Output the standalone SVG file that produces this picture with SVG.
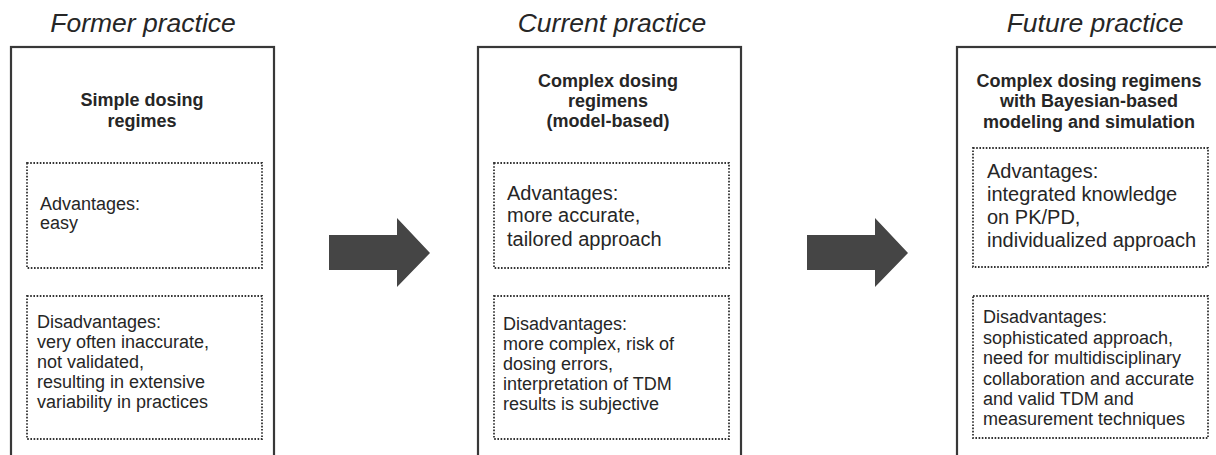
<svg xmlns="http://www.w3.org/2000/svg" width="1216" height="455" viewBox="0 0 1216 455">
<style>
text{font-family:"Liberation Sans",Arial,sans-serif;fill:#262626}
.h{font-size:26.5px;font-style:italic;text-anchor:middle}
.b{font-size:18px;font-weight:bold;text-anchor:middle}
.t18{font-size:18px}
.t20{font-size:20px}
.outer{fill:#fff;stroke:#383838;stroke-width:2.2}
.dot{fill:none;stroke:#333;stroke-width:1.8;stroke-dasharray:1.6 1.6}
.arrow{fill:#454545}
</style>
<rect width="1216" height="455" fill="#fff"/>
<g id="former">
<text class="h" x="143" y="32">Former practice</text>
<rect class="outer" x="11" y="47" width="263" height="420"/>
<text class="b" x="142" y="106">Simple dosing</text>
<text class="b" x="142" y="127">regimes</text>
<rect class="dot" x="27" y="163" width="235" height="105"/>
<text class="t18" x="40" y="210">Advantages:</text>
<text class="t18" x="40" y="229">easy</text>
<rect class="dot" x="27" y="296" width="235" height="143"/>
<text class="t18" x="37" y="328">Disadvantages:</text>
<text class="t18" x="37" y="348">very often inaccurate,</text>
<text class="t18" x="37" y="368">not validated,</text>
<text class="t18" x="37" y="388">resulting in extensive</text>
<text class="t18" x="37" y="408">variability in practices</text>
</g>
<g id="current">
<text class="h" x="612" y="32">Current practice</text>
<rect class="outer" x="478" y="47" width="263" height="420"/>
<text class="b" x="608" y="87">Complex dosing</text>
<text class="b" x="608" y="107">regimens</text>
<text class="b" x="608" y="127">(model-based)</text>
<rect class="dot" x="494" y="163" width="235" height="105"/>
<text class="t20" x="507" y="200">Advantages:</text>
<text class="t20" x="507" y="222">more accurate,</text>
<text class="t20" x="507" y="246">tailored approach</text>
<rect class="dot" x="494" y="296" width="235" height="143"/>
<text class="t18" x="503" y="330">Disadvantages:</text>
<text class="t18" x="503" y="350">more complex, risk of</text>
<text class="t18" x="503" y="370">dosing errors,</text>
<text class="t18" x="503" y="390">interpretation of TDM</text>
<text class="t18" x="503" y="410">results is subjective</text>
</g>
<g id="future">
<text class="h" x="1095" y="32">Future practice</text>
<rect class="outer" x="957" y="47" width="270" height="420"/>
<text class="b" x="1089" y="87">Complex dosing regimens</text>
<text class="b" x="1089" y="107">with Bayesian-based</text>
<text class="b" x="1089" y="128">modeling and simulation</text>
<rect class="dot" x="973" y="148" width="235" height="119"/>
<text class="t20" x="987" y="178">Advantages:</text>
<text class="t20" x="987" y="201">integrated knowledge</text>
<text class="t20" x="987" y="224">on PK/PD,</text>
<text class="t20" x="987" y="247">individualized approach</text>
<rect class="dot" x="973" y="296" width="235" height="142"/>
<text class="t18" x="983" y="323">Disadvantages:</text>
<text class="t18" x="983" y="344">sophisticated approach,</text>
<text class="t18" x="983" y="364">need for multidisciplinary</text>
<text class="t18" x="983" y="385">collaboration and accurate</text>
<text class="t18" x="983" y="405">and valid TDM and</text>
<text class="t18" x="983" y="425">measurement techniques</text>
</g>
<g id="connectors">
<polygon class="arrow" points="329,235 397,235 397,218 430,253 397,287 397,270 329,270"/>
<polygon class="arrow" points="807,235 875,235 875,218 908,253 875,287 875,270 807,270"/>
</g>
</svg>
